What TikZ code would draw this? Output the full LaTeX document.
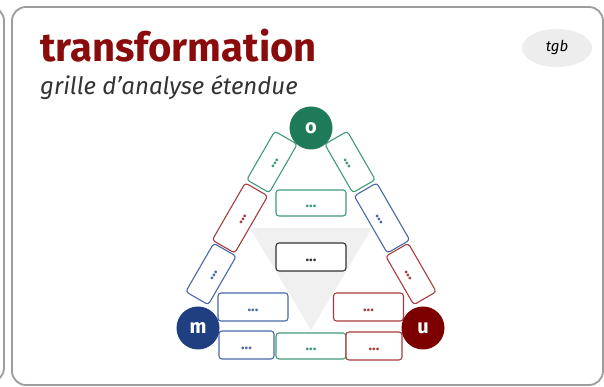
\documentclass[tikz,border=0pt]{standalone}
\usepackage{fontspec}
\setmainfont{Fira Sans}
\usetikzlibrary{shapes.geometric}
\definecolor{trred}{HTML}{8A0B0B}
\definecolor{ogreen}{HTML}{1F7A5A}
\definecolor{mblue}{HTML}{1F3F80}
\definecolor{ured}{HTML}{7D0000}
\definecolor{bgreen}{HTML}{3F9A78}
\definecolor{bblue}{HTML}{4A67A8}
\definecolor{bred}{HTML}{A83B3B}
\definecolor{bblack}{HTML}{333333}
\definecolor{cardgray}{HTML}{9C9C9C}

\begin{document}
\begin{tikzpicture}[x=1pt, y=1pt,
  cell/.style={draw=#1, text=#1, fill=white, rounded corners=3pt,
               line width=1.1pt, minimum width=56pt, minimum height=26pt,
               inner sep=0pt, text height=9pt, text depth=0pt,
               font=\bfseries\fontsize{15}{15}\selectfont},
  wide/.style={minimum width=70pt},
  pole/.style={circle, fill=#1, text=white, minimum size=43pt,
               inner sep=0pt, font=\bfseries\fontsize{20}{20}\selectfont},
  card/.style={draw=cardgray, line width=1.8pt, rounded corners=14pt},
]
\useasboundingbox (0,0) rectangle (604,387);

% ---- Cards ----
\draw[card] (-40,5) rectangle (4,380);
\draw[card] (12,2) rectangle (603,380);

% ---- Heading ----
\node[anchor=base west, inner sep=0pt, text=trred,
      font=\bfseries\fontsize{40}{40}\selectfont] (title) at (40,325)
  {transformation};
\node[anchor=base west, inner sep=0pt, text=black!80,
      font=\itshape\fontsize{24}{24}\selectfont] (subtitle) at (40,292)
  {grille d’analyse étendue};
\node[ellipse, fill=black!7, minimum width=70pt, minimum height=38pt,
      inner sep=0pt, font=\itshape\fontsize{15}{15}\selectfont] (tag)
  at (557,339) {tgb};

% ---- Inner triangle ----
\fill[black!6] (250,159) -- (372,159) -- (311,57) -- cycle;

% ---- Centre cells ----
\node[cell=bgreen, wide] (cg) at (311,184) {...};
\node[cell=bblack, wide, minimum height=28pt] (ck) at (311,130) {...};

% ---- Bottom rows ----
\node[cell=bblue, wide, minimum height=28pt] (mb1) at (253,80) {...};
\node[cell=bred, wide, minimum height=28pt] (ur1) at (368.5,80) {...};
\node[cell=bblue, minimum width=55pt, minimum height=28pt] (mb2) at (246.5,42) {...};
\node[cell=bgreen, wide] (mu) at (311,41) {...};
\node[cell=bred, minimum height=28pt] (ur2) at (374,41) {...};

% ---- Left side (o -- m) ----
\node[cell=bgreen, rotate=60] (omg) at (272,225) {...};
\node[cell=bred, rotate=60, minimum width=66pt] (omr) at (240,169) {...};
\node[cell=bblue, rotate=60] (omb) at (211,113) {...};

% ---- Right side (o -- u) ----
\node[cell=bgreen, rotate=-60] (oug) at (350,225) {...};
\node[cell=bblue, rotate=-60, minimum width=66pt] (oub) at (382,169) {...};
\node[cell=bred, rotate=-60] (our) at (411,113) {...};

% ---- Poles ----
\node[pole=ogreen] (o) at (311,259) {o};
\node[pole=mblue] (m) at (198,59) {m};
\node[pole=ured] (u) at (423,59) {u};

\end{tikzpicture}
\end{document}
